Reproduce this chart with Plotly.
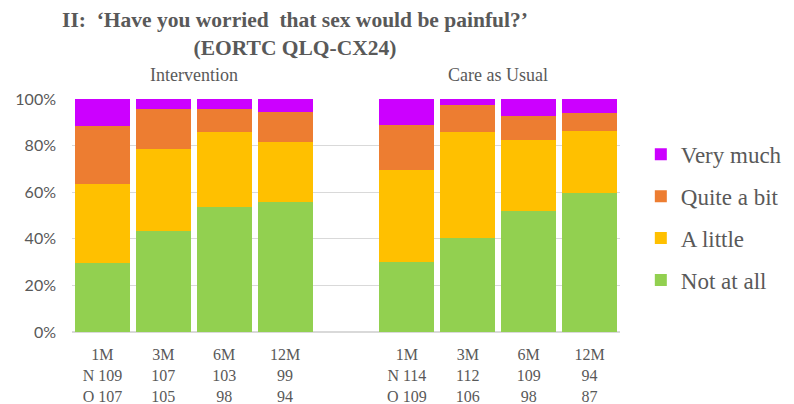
import plotly.graph_objects as go

groups = ["Intervention", "Care as Usual"]
timepoints = ["1M", "3M", "6M", "12M"]
n_counts = {"Intervention": [109, 107, 103, 99], "Care as Usual": [114, 112, 109, 94]}
o_counts = {"Intervention": [107, 105, 98, 94], "Care as Usual": [109, 106, 98, 87]}

categories = ["Not at all", "A little", "Quite a bit", "Very much"]
colors = ["#92d050", "#ffc000", "#ed7d31", "#cc00ff"]

values = {
    "Intervention": {
        "Not at all":  [29.6, 43.4, 53.7, 56.0],
        "A little":    [33.8, 35.2, 32.0, 25.4],
        "Quite a bit": [25.2, 17.3, 10.2, 13.0],
        "Very much":   [11.4, 4.1, 4.1, 5.6],
    },
    "Care as Usual": {
        "Not at all":  [30.1, 40.3, 51.9, 59.7],
        "A little":    [39.5, 45.4, 30.5, 26.6],
        "Quite a bit": [19.4, 11.7, 10.3, 7.6],
        "Very much":   [11.0, 2.6, 7.3, 6.1],
    },
}

y_ticks = [0, 20, 40, 60, 80, 100]

slot = len(timepoints) + 1  # one empty slot between groups
xs, ticktext = [], []
for g, grp in enumerate(groups):
    for i, tp in enumerate(timepoints):
        xs.append(g * slot + i)
        n = n_counts[grp][i]
        o = o_counts[grp][i]
        if i == 0:
            ticktext.append(f"{tp}<br>N {n}<br>O {o}")
        else:
            ticktext.append(f"{tp}<br>{n}<br>{o}")

fig = go.Figure()
for k, (cat, col) in enumerate(zip(categories, colors)):
    yv = []
    for grp in groups:
        yv.extend(values[grp][cat])
    fig.add_trace(go.Bar(
        x=xs, y=yv, name=cat, marker=dict(color=col, line=dict(width=0)),
        width=0.9, legendgroup=cat, legendrank=len(categories) - k,
    ))

serif = "Liberation Serif, Times New Roman, serif"
grey = "#595959"

W, H = 786, 396  # page body adds an 8px margin

fig.update_layout(
    barmode="stack",
    width=W, height=H,
    margin=dict(l=64, r=174, t=91, b=72, autoexpand=False),
    paper_bgcolor="white", plot_bgcolor="white",
    title=dict(
        text="<b>II:  ‘Have you worried  that sex would be painful?’<br>(EORTC QLQ-CX24)</b>",
        x=287 / W, xanchor="center", y=1 - 19 / H, yanchor="middle",
        font=dict(family=serif, size=21.5, color=grey),
    ),
    legend=dict(
        traceorder="grouped", tracegroupgap=9,
        x=1.038, xanchor="left", y=0.855, yanchor="top",
        font=dict(family=serif, size=23, color=grey),
        bgcolor="rgba(0,0,0,0)",
    ),
    xaxis=dict(
        range=[-0.5, 2 * slot - 1.5], tickmode="array", tickvals=xs, ticktext=ticktext,
        showgrid=False, zeroline=False, showline=False, ticks="",
        tickfont=dict(family=serif, size=16, color=grey), automargin=False,
        ticklabelstandoff=11,
    ),
    yaxis=dict(
        range=[0, 100], tickmode="array", tickvals=y_ticks,
        ticktext=[f"{v}%" for v in y_ticks],
        showgrid=True, gridcolor="#d9d9d9", gridwidth=1.3, zeroline=True, zerolinecolor="#d9d9d9",
        tickfont=dict(family="Lato, sans-serif", size=16, color=grey), automargin=False,
        ticklabelstandoff=15,
    ),
    showlegend=True,
)

for g, grp in enumerate(groups):
    fig.add_annotation(
        x=g * slot + (len(timepoints) - 1) / 2, xref="x", y=1.103, yref="paper",
        text=grp, showarrow=False, yanchor="middle",
        font=dict(family=serif, size=18, color=grey),
    )

fig.write_html("out.html")
